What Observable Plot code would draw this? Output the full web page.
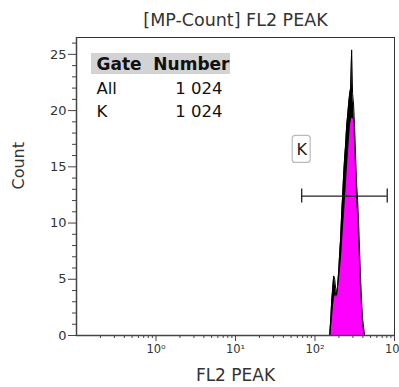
<!DOCTYPE html>
<html><head><meta charset="utf-8">
<script src="https://cdn.jsdelivr.net/npm/d3@7"></script>
<script src="https://cdn.jsdelivr.net/npm/@observablehq/plot@0.6"></script>
<style>body{margin:0;background:#fff;}</style>
</head><body><div id="chart"></div>
<script>
// FL2 PEAK channel values (log axis) and histogram counts
const fl2 = [153,158,162,167,172,177,182,187,193,199,204,210,217,223,229,236,243,250,257,265,273,281,289,297,306,315,324,334,344,354,364,375,386,397,409,421];
// jagged outline (black) – upper envelope
const countOutline = [0,1.5,3.0,4.2,5.3,5.0,4.2,3.6,4.5,5.8,7.2,8.6,11.0,12.5,14.2,15.8,17.0,18.6,19.5,20.6,21.5,22.0,25.4,21.5,20.5,18.5,16.0,13.5,12.0,10.0,7.5,5.0,3.0,1.5,0.7,0];
// gated fill (magenta) – lower envelope
const countFill = [0,0,0.8,1.8,2.8,3.4,3.6,3.4,3.8,4.5,5.2,6.0,7.2,8.5,9.8,11.0,12.5,13.8,15.2,16.5,17.8,18.8,19.3,19.3,19.2,17.0,14.5,12.0,10.5,8.5,6.0,4.0,2.2,1.0,0.3,0];

const gateNames = ["All", "K"];
const gateCounts = ["1 024", "1 024"];
const gateRange = [68, 810];
const gateLevel = 12.4;
const gateLabel = "K";

const xTicks = [1, 10, 100, 1000];
const xTickLabels = ["10⁰", "10¹", "10²", "10³"];
const yTicks = [0, 5, 10, 15, 20, 25];
const titleText = "[MP-Count] FL2 PEAK";
const xLabel = "FL2 PEAK";
const yLabel = "Count";
const tableHeader = ["Gate", "Number"];

const hist = fl2.map((x, i) => ({x, hi: countOutline[i], lo: countFill[i]}));
const xMinor = [];
for (let e = -1; e < 3; e++) for (let m = 2; m < 10; m++) xMinor.push(m * 10 ** e);
const yMinor = d3.range(0, 27).filter(v => v % 5 !== 0);
const font = "'DejaVu Sans', sans-serif";

const rowMarks = gateNames.flatMap((g, i) => [
  Plot.text([g], {frameAnchor: "top-left", lineAnchor: "middle", dx: 20, dy: 51.5 + i * 22.5, text: d => d, fontSize: 16.5, textAnchor: "start", fill: "#111"}),
  Plot.text([gateCounts[i]], {frameAnchor: "top-left", lineAnchor: "middle", dx: 146, dy: 51.5 + i * 22.5, text: d => d, fontSize: 16.5, textAnchor: "end", fill: "#111"})
]);

const plot = Plot.plot({
  width: 399, height: 387,
  marginTop: 37, marginBottom: 52, marginLeft: 76, marginRight: 5,
  style: {fontFamily: font, color: "#333", background: "#fff"},
  x: {type: "log", domain: [0.1, 1000]},
  y: {domain: [0, 26.5]},
  marks: [
    // table header background
    (index, scales, values, dims) => d3.create("svg:rect")
        .attr("x", dims.marginLeft + 15).attr("y", dims.marginTop + 16)
        .attr("width", 139).attr("height", 21).attr("fill", "#d3d3d3").node(),
    Plot.areaY(hist, {x: "x", y: "hi", fill: "#000"}),
    Plot.areaY(hist, {x: "x", y: "lo", fill: "#ff00ff"}),
    Plot.lineY(hist, {x: "x", y: "hi", stroke: "#000", strokeWidth: 1}),
    // gate
    Plot.ruleY([gateLevel], {x1: gateRange[0], x2: gateRange[1], stroke: "#222", strokeWidth: 1.3}),
    Plot.ruleX(gateRange, {y1: gateLevel - 0.62, y2: gateLevel + 0.62, stroke: "#222", strokeWidth: 1.3}),
    (index, scales) => {
      const cx = scales.x(gateRange[0]), cy = scales.y(16.5);
      return d3.create("svg:rect").attr("x", cx - 9).attr("y", cy - 14)
        .attr("width", 18).attr("height", 27).attr("rx", 3)
        .attr("fill", "#fff").attr("stroke", "#bbb").attr("stroke-width", 1.2).node();
    },
    Plot.text([gateLabel], {x: gateRange[0], y: 16.5, text: d => d, fontSize: 16, fill: "#222"}),
    // axes
    Plot.axisY(yTicks, {tickSize: 8, tickPadding: 2, fontSize: 13, label: null, stroke: "#444"}),
    Plot.axisY(yMinor, {tickSize: 4, tickFormat: () => "", label: null, stroke: "#444"}),
    Plot.axisX(xTicks, {tickSize: 6, tickPadding: 3, fontSize: 11.5, label: null, stroke: "#444",
      tickFormat: d => xTickLabels[xTicks.indexOf(d)]}),
    Plot.axisX(xMinor, {tickSize: 3, tickFormat: () => "", label: null, stroke: "#444"}),
    Plot.frame({stroke: "#333", strokeWidth: 1}),
    Plot.ruleY([0], {stroke: "#444", strokeWidth: 1.5}),
    Plot.ruleX([0.1], {stroke: "#444", strokeWidth: 1.5}),
    // table
    Plot.text([tableHeader[0]], {frameAnchor: "top-left", lineAnchor: "middle", dx: 20, dy: 27.5, text: d => d, fontSize: 17, fontWeight: "bold", textAnchor: "start", fill: "#111"}),
    Plot.text([tableHeader[1]], {frameAnchor: "top-left", lineAnchor: "middle", dx: 153, dy: 27.5, text: d => d, fontSize: 17, fontWeight: "bold", textAnchor: "end", fill: "#111"}),
    ...rowMarks,
    // titles
    Plot.text([titleText], {frameAnchor: "top", lineAnchor: "middle", dy: -17, text: d => d, fontSize: 17.5, fill: "#333"}),
    Plot.text([xLabel], {frameAnchor: "bottom", lineAnchor: "middle", dy: 40, text: d => d, fontSize: 17, fill: "#333"}),
    Plot.text([yLabel], {frameAnchor: "left", lineAnchor: "middle", dx: -58, dy: 3, text: d => d, fontSize: 16, rotate: -90, fill: "#333"})
  ]
});
document.getElementById("chart").appendChild(plot);
</script>
</body></html>
